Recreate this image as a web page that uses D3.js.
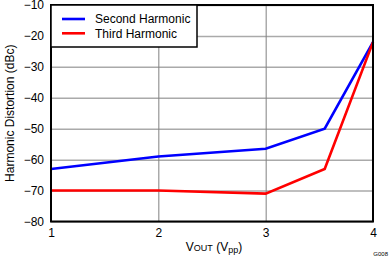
<!DOCTYPE html>
<html>
<head>
<meta charset="utf-8">
<script src="https://cdn.jsdelivr.net/npm/d3@7"></script>
<style>
  body { margin: 0; background: #fff; }
  text { font-family: "Liberation Sans", Arial, sans-serif; }
</style>
</head>
<body>
<div id="chart"></div>
<script>
// donnees
var vout = [1, 2, 3, 3.55, 4];
var second_harmonic = [-63, -59, -56.5, -50, -22];
var third_harmonic = [-70, -70, -71, -63, -22];
var series_names = ["Second Harmonic", "Third Harmonic"];
var series_colors = ["#0000ff", "#ff0000"];
var x_ticks = [1, 2, 3, 4];
var y_ticks = [-80, -70, -60, -50, -40, -30, -20, -10];

var W = 389, H = 257;
// attention: "top" est reserve (window.top) -> p_top
var p_left = 51, p_right = 373, p_top = 5, p_bottom = 221.5;

var svg = d3.select('#chart').append('svg').attr('width', W).attr('height', H);

var x = d3.scaleLinear().domain([1, 4]).range([p_left, p_right]);
var y = d3.scaleLinear().domain([-80, -10]).range([p_bottom, p_top]);

// grille horizontale
svg.append('g')
    .attr('transform', 'translate(' + p_left + ',0)')
    .call(d3.axisLeft(y).tickValues(y_ticks).tickSize(-(p_right - p_left)).tickFormat(''))
    .call(function(g){
        g.select('.domain').remove();
        g.selectAll('line').attr('stroke', '#aaaaaa').attr('stroke-width', 1.5);
    });

// grille verticale
svg.append('g')
    .attr('transform', 'translate(0,' + p_bottom + ')')
    .call(d3.axisBottom(x).tickValues(x_ticks).tickSize(-(p_bottom - p_top)).tickFormat(''))
    .call(function(g){
        g.select('.domain').remove();
        g.selectAll('line').attr('stroke', '#808080').attr('stroke-width', 1);
    });

// labels des axes
svg.append('g')
    .attr('transform', 'translate(' + p_left + ',0)')
    .call(d3.axisLeft(y).tickValues(y_ticks).tickSize(0).tickPadding(7)
        .tickFormat(function(d){ return d < 0 ? '\u2212' + Math.abs(d) : d; }))
    .call(function(g){
        g.select('.domain').remove();
        g.selectAll('text').attr('font-size', 12).attr('fill', '#000')
            .style('font-family', '"Liberation Sans", Arial, sans-serif');
    });

svg.append('g')
    .attr('transform', 'translate(0,' + p_bottom + ')')
    .call(d3.axisBottom(x).tickValues(x_ticks).tickSize(0).tickPadding(7).tickFormat(d3.format('d')))
    .call(function(g){
        g.select('.domain').remove();
        g.selectAll('text').attr('font-size', 12).attr('fill', '#000')
            .style('font-family', '"Liberation Sans", Arial, sans-serif');
    });

// courbes
var line = d3.line()
    .x(function(d){ return x(d[0]); })
    .y(function(d){ return y(d[1]); });

[second_harmonic, third_harmonic].forEach(function(vals, i){
    svg.append('path')
        .datum(vout.map(function(v, j){ return [v, vals[j]]; }))
        .attr('d', line)
        .attr('fill', 'none')
        .attr('stroke', series_colors[i])
        .attr('stroke-width', 2.6)
        .attr('stroke-linejoin', 'miter');
});

// cadre
svg.append('rect')
    .attr('x', p_left).attr('y', p_top)
    .attr('width', p_right - p_left).attr('height', p_bottom - p_top)
    .attr('fill', 'none').attr('stroke', '#000').attr('stroke-width', 2);

// legende
var leg = svg.append('g');
leg.append('rect')
    .attr('x', p_left).attr('y', p_top)
    .attr('width', 146).attr('height', 42)
    .attr('fill', '#fff').attr('stroke', '#000').attr('stroke-width', 1.5);
series_names.forEach(function(name, i){
    var ly = 19 + i * 14.3;
    leg.append('line')
        .attr('x1', 62).attr('x2', 85)
        .attr('y1', ly).attr('y2', ly)
        .attr('stroke', series_colors[i]).attr('stroke-width', 2.6);
    leg.append('text')
        .attr('x', 95).attr('y', ly + 4.3)
        .attr('font-size', 12)
        .text(name);
});

// titres des axes
svg.append('text')
    .attr('transform', 'translate(14,' + ((p_top + p_bottom) / 2) + ') rotate(-90)')
    .attr('text-anchor', 'middle')
    .attr('font-size', 12)
    .text('Harmonic Distortion (dBc)');

var xt = svg.append('text')
    .attr('x', (p_left + p_right) / 2 + 2).attr('y', 251)
    .attr('text-anchor', 'middle')
    .attr('font-size', 12);
xt.append('tspan').text('V');
xt.append('tspan').attr('font-size', 9).text('OUT');
xt.append('tspan').text(' (V');
xt.append('tspan').attr('font-size', 9).attr('dy', 2).text('pp');
xt.append('tspan').attr('dy', -2).text(')');

svg.append('text')
    .attr('x', 388).attr('y', 256)
    .attr('text-anchor', 'end')
    .attr('font-size', 6)
    .text('G008');
</script>
</body>
</html>
